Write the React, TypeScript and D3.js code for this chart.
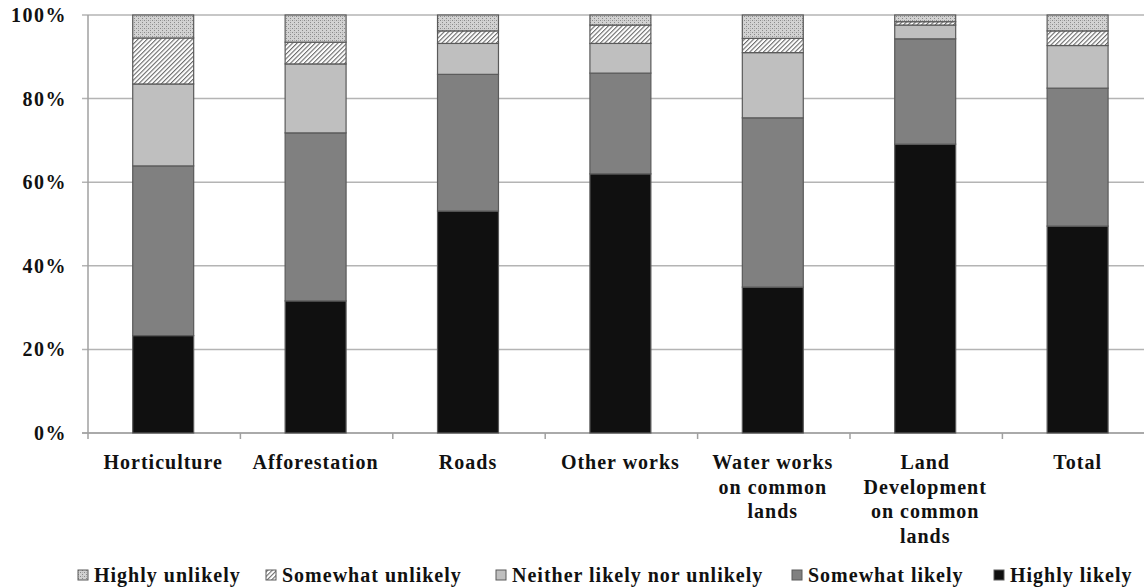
import React from "react";
import * as d3 from "d3";

const categories: string[][] = [
  ["Horticulture"],
  ["Afforestation"],
  ["Roads"],
  ["Other works"],
  ["Water works", "on common", "lands"],
  ["Land", "Development", "on common", "lands"],
  ["Total"],
];
const seriesNames = ["Highly likely", "Somewhat likely", "Neither likely nor unlikely", "Somewhat unlikely", "Highly unlikely"];
const highlyLikely = [23.3, 31.6, 53.1, 62.0, 34.9, 69.1, 49.5];
const somewhatLikely = [40.6, 40.2, 32.7, 24.1, 40.5, 25.2, 33.0];
const neither = [19.6, 16.5, 7.4, 7.1, 15.6, 3.3, 10.2];
const somewhatUnlikely = [11.0, 5.2, 3.0, 4.4, 3.4, 0.8, 3.5];
const highlyUnlikely = [5.5, 6.5, 3.8, 2.4, 5.6, 1.6, 3.8];
const yTicks = [0, 20, 40, 60, 80, 100];
const legendOrder = ["Highly unlikely", "Somewhat unlikely", "Neither likely nor unlikely", "Somewhat likely", "Highly likely"];

const W = 1144, H = 587;
const FONT = "'Liberation Serif', serif";

export default function App() {
  const keys = categories.map((c) => c.join(" "));
  const x = d3.scaleBand<string>().domain(keys).range([87, 87 + 7 * 152.4]).paddingInner(0.6).paddingOuter(0.3);
  const y = d3.scaleLinear().domain([0, 100]).range([433, 15]);
  const rows = keys.map((k, i) => ({
    key: k,
    "Highly likely": highlyLikely[i],
    "Somewhat likely": somewhatLikely[i],
    "Neither likely nor unlikely": neither[i],
    "Somewhat unlikely": somewhatUnlikely[i],
    "Highly unlikely": highlyUnlikely[i],
  }));
  const stack = d3.stack<any>().keys(seriesNames)(rows);
  const fills: Record<string, string> = {
    "Highly likely": "#101010",
    "Somewhat likely": "#808080",
    "Neither likely nor unlikely": "#bfbfbf",
    "Somewhat unlikely": "url(#hatch)",
    "Highly unlikely": "url(#dots)",
  };
  const legendX = [78, 266, 496, 792, 994];
  const step = x.step();
  const x0 = x.range()[0];
  return (
    <svg width={W} height={H} style={{ position: "absolute", left: 0, top: 0, background: "#fff" }}>
      <defs>
        <pattern id="dots" width="4" height="4" patternUnits="userSpaceOnUse">
          <rect width="4" height="4" fill="#d2d2d2" />
          <rect x="0" y="0" width="1" height="1" fill="#8a8a8a" />
          <rect x="2" y="2" width="1" height="1" fill="#8a8a8a" />
          <rect x="2" y="0" width="1" height="1" fill="#b0b0b0" />
        </pattern>
        <pattern id="hatch" width="3.2" height="3.2" patternUnits="userSpaceOnUse" patternTransform="rotate(45)">
          <rect width="3.2" height="3.2" fill="#ffffff" />
          <rect x="0" y="0" width="1.1" height="3.2" fill="#6a6a6a" />
        </pattern>
      </defs>
      {yTicks.map((t) => (
        <g key={t}>
          <line x1={82} x2={W} y1={y(t)} y2={y(t)} stroke="#b4b4b4" strokeWidth={1.5} />
          <text x={67} y={y(t) + 7} textAnchor="end" fontFamily={FONT} fontWeight="bold" fontSize={20} letterSpacing={1.5} fill="#111">
            {t}%
          </text>
        </g>
      ))}
      <line x1={88} x2={88} y1={y(100)} y2={y(0)} stroke="#a0a0a0" strokeWidth={1.5} />
      <line x1={82} x2={W} y1={y(0)} y2={y(0)} stroke="#a0a0a0" strokeWidth={1.5} />
      {keys.map((k, i) => (
        <line key={k} x1={x0 + i * step + 1} x2={x0 + i * step + 1} y1={y(0)} y2={y(0) + 6} stroke="#a0a0a0" strokeWidth={1.5} />
      ))}
      {stack.map((s) =>
        s.map((d, i) => (
          <rect
            key={s.key + i}
            x={x(keys[i])!}
            y={y(d[1])}
            width={x.bandwidth()}
            height={y(d[0]) - y(d[1])}
            fill={fills[s.key]}
            stroke="#5a5a5a"
            strokeWidth={1.2}
          />
        ))
      )}
      {categories.map((lines, i) => (
        <text key={i} textAnchor="middle" fontFamily={FONT} fontWeight="bold" fontSize={20} letterSpacing={1} fill="#111">
          {lines.map((ln, j) => (
            <tspan key={j} x={x(keys[i])! + x.bandwidth() / 2} y={469 + j * 24.5}>
              {ln}
            </tspan>
          ))}
        </text>
      ))}
      {legendOrder.map((name, i) => (
        <g key={name}>
          <rect x={legendX[i]} y={570} width={10} height={10} fill={fills[name]} stroke="#5a5a5a" strokeWidth={1} />
          <text x={legendX[i] + 16} y={582} fontFamily={FONT} fontWeight="bold" fontSize={20} letterSpacing={1} fill="#111">
            {name}
          </text>
        </g>
      ))}
    </svg>
  );
}
